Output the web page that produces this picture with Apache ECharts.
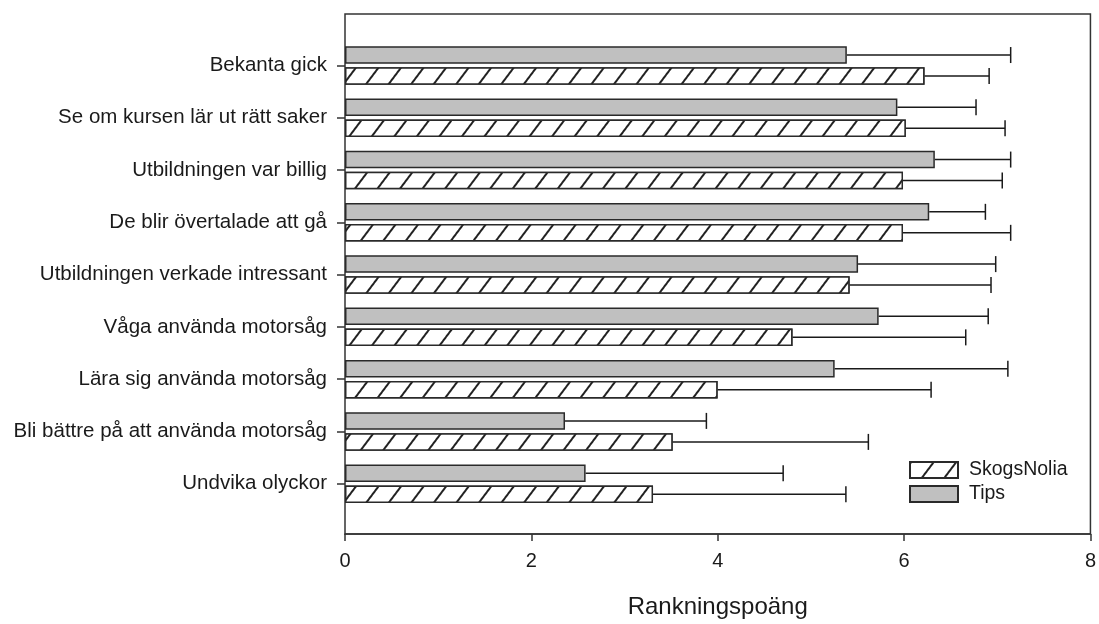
<!DOCTYPE html>
<html>
<head>
<meta charset="utf-8">
<script src="https://cdn.jsdelivr.net/npm/echarts@6/dist/echarts.min.js"></script>
<style>
html,body{margin:0;padding:0;background:#fff;}
#chart{width:1099px;height:624px;}
</style>
</head>
<body>
<div id="chart"></div>
<script>
const categories = ['Bekanta gick','Se om kursen lär ut rätt saker','Utbildningen var billig','De blir övertalade att gå','Utbildningen verkade intressant','Våga använda motorsåg','Lära sig använda motorsåg','Bli bättre på att använda motorsåg','Undvika olyckor'];
const tipsValues = [5.36,5.90,6.30,6.24,5.48,5.70,5.23,2.35,2.57];
const tipsErrors = [1.75,0.84,0.81,0.60,1.47,1.17,1.85,1.51,2.11];
const skogsValues = [6.19,5.99,5.96,5.96,5.39,4.78,3.98,3.50,3.29];
const skogsErrors = [0.69,1.06,1.06,1.15,1.51,1.85,2.28,2.09,2.06];
const xTicks = [0,2,4,6,8];
const xTitle = 'Rankningspoäng';
const seriesNames = ['SkogsNolia','Tips'];

const FONT = '"Liberation Sans", Arial, sans-serif';
const INK = '#1a1a1a';
const BAR_W = 17.5;
const HALF_OFF = 10.5;

function errRender(offset){
  return function(params, api){
    const cat = api.value(0), v = api.value(1), e = api.value(2);
    const p0 = api.coord([v, cat]);
    const p1 = api.coord([v + e, cat]);
    const y = p0[1] + offset;
    const style = {stroke: INK, lineWidth: 1.5};
    return {type:'group', children:[
      {type:'line', shape:{x1:p0[0], y1:y, x2:p1[0], y2:y}, style},
      {type:'line', shape:{x1:p1[0], y1:y-8, x2:p1[0], y2:y+8}, style}
    ]};
  };
}

const chart = echarts.init(document.getElementById('chart'), null, {renderer:'canvas'});
const hatch = {
  symbol:'rect', dashArrayX:[1,0], dashArrayY:[2,16],
  rotation: -53*Math.PI/180, color:'#222', backgroundColor:'#ffffff'
};
chart.setOption({
  animation:false,
  backgroundColor:'#fff',
  textStyle:{fontFamily:FONT, color:INK},
  grid:[
    {left:345, right:5, top:39.4, bottom:114.2, show:false},
    {left:345, right:5, top:14, bottom:88, show:true, borderColor:'#333', borderWidth:1.5, backgroundColor:'transparent'}
  ],
  legend:{
    data:seriesNames, orient:'vertical', left:904, top:455,
    itemWidth:48, itemHeight:16, itemGap:4, icon:'rect',
    textStyle:{fontFamily:FONT, fontSize:19.5, color:INK, padding:[0,0,0,6]},
    selectedMode:false
  },
  xAxis:[
    {gridIndex:0, type:'value', min:0, max:8, show:false},
    {gridIndex:1, type:'value', min:xTicks[0], max:xTicks[xTicks.length-1], interval:2,
     axisLine:{show:true, lineStyle:{color:'#333', width:1.5}},
     axisTick:{show:true, length:7, lineStyle:{color:'#333', width:1.5}},
     splitLine:{show:false},
     axisLabel:{fontSize:20, color:INK, fontFamily:FONT, margin:17},
     name:xTitle, nameLocation:'middle', nameGap:61,
     nameTextStyle:{fontSize:24, color:INK, fontFamily:FONT}}
  ],
  yAxis:[
    {gridIndex:0, type:'category', data:categories, inverse:true,
     axisLine:{show:false},
     axisTick:{show:true, alignWithLabel:true, length:8, lineStyle:{color:'#333', width:1.5}},
     axisLabel:{fontSize:20.5, color:INK, fontFamily:FONT, margin:18}},
    {gridIndex:1, type:'value', min:0, max:1, show:false}
  ],
  series:[
    {name:'Tips', type:'bar', xAxisIndex:0, yAxisIndex:0, data:tipsValues,
     barWidth:BAR_W, barGap:'20%',
     itemStyle:{color:'#c0c0c0', borderColor:'#2a2a2a', borderWidth:1.5}},
    {name:'SkogsNolia', type:'bar', xAxisIndex:0, yAxisIndex:0, data:skogsValues,
     barWidth:BAR_W, barGap:'20%',
     itemStyle:{color:'#ffffff', borderColor:'#2a2a2a', borderWidth:1.5, decal:hatch}},
    {name:'errTips', type:'custom', xAxisIndex:0, yAxisIndex:0,
     data:tipsValues.map((v,i)=>[i, v, tipsErrors[i]]),
     encode:{x:1, y:0}, renderItem:errRender(-HALF_OFF), z:3},
    {name:'errSkogs', type:'custom', xAxisIndex:0, yAxisIndex:0,
     data:skogsValues.map((v,i)=>[i, v, skogsErrors[i]]),
     encode:{x:1, y:0}, renderItem:errRender(HALF_OFF), z:3}
  ]
});
</script>
</body>
</html>
